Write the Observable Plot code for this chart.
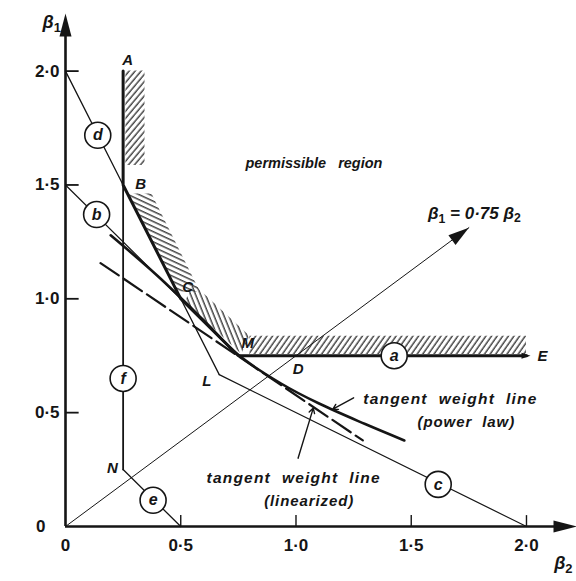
<!DOCTYPE html>
<html><head><meta charset="utf-8">
<script src="https://cdn.jsdelivr.net/npm/d3@7"></script>
<script src="https://cdn.jsdelivr.net/npm/@observablehq/plot@0.6"></script>
<style>
body{margin:0;background:#fff}
#chart svg{display:block}
</style>
</head><body>
<svg width="0" height="0" style="position:absolute">
<defs>
<pattern id="hatchAB" patternUnits="userSpaceOnUse" width="4.6" height="10" patternTransform="rotate(40)"><line x1="2" y1="0" x2="2" y2="10" stroke="#2a2a2a" stroke-width="1.3"/></pattern>
<pattern id="hatchBC" patternUnits="userSpaceOnUse" width="4.6" height="10" patternTransform="rotate(-65)"><line x1="2" y1="0" x2="2" y2="10" stroke="#2a2a2a" stroke-width="1.3"/></pattern>
<pattern id="hatchCM" patternUnits="userSpaceOnUse" width="4.6" height="10" patternTransform="rotate(-22)"><line x1="2" y1="0" x2="2" y2="10" stroke="#2a2a2a" stroke-width="1.3"/></pattern>
<pattern id="hatchME" patternUnits="userSpaceOnUse" width="4.6" height="10" patternTransform="rotate(35)"><line x1="2" y1="0" x2="2" y2="10" stroke="#2a2a2a" stroke-width="1.3"/></pattern>
</defs>
</svg>
<div id="chart"></div>
<script>
// ---- axes ----
const X_MAX = 2.217, Y_MAX = 2.253;
const xTicks = [0, 0.5, 1.0, 1.5, 2.0];
const xTickLabels = ["0", "0·5", "1·0", "1·5", "2·0"];
const yTicks = [0.5, 1.0, 1.5, 2.0];
const yTickLabels = ["0·5", "1·0", "1·5", "2·0"];
const yZeroLabel = "0";

// ---- constraint lines (β2, β1) ----
const lineD = [[0, 2.0], [0.25, 1.5], [0.5, 1.0], [0.667, 0.667]];
const lineB = [[0, 1.5], [0.5, 1.0], [0.75, 0.75]];
const lineF = [[0.25, 1.5], [0.25, 0.25]];
const lineE = [[0.25, 0.25], [0.5, 0]];
const lineC = [[0.667, 0.667], [2.0, 0]];
const boundary = [[0.25, 2.0], [0.25, 1.5], [0.5, 1.0], [0.75, 0.75], [2.0, 0.75]]; // A B C M E
const ray = [[0, 0], [1.75, 1.3125]];

// ---- tangent weight lines ----
const powerLaw = [[0.196, 1.279], [0.40, 1.10], [0.60, 0.905], [0.748, 0.755], [0.935, 0.628], [1.10, 0.54], [1.30, 0.45], [1.47, 0.378]];
const linearized = [[0.152, 1.157], [1.29, 0.378]];

// ---- hatched bands (inner edge x1,y1 / outer edge x2,y2) ----
const bandAB = [{x1: 0.262, y1: 2.0, x2: 0.345, y2: 2.0}, {x1: 0.262, y1: 1.585, x2: 0.345, y2: 1.585}];
const bandBC = [{x1: 0.275, y1: 1.46, x2: 0.375, y2: 1.46}, {x1: 0.49, y1: 1.03, x2: 0.585, y2: 1.03}];
const bandCM = [{x1: 0.52, y1: 0.985, x2: 0.555, y2: 1.065}, {x1: 0.765, y1: 0.755, x2: 0.80, y2: 0.835}];
const bandME = [{x1: 0.80, y1: 0.755, x2: 0.80, y2: 0.835}, {x1: 2.0, y1: 0.755, x2: 2.0, y2: 0.835}];

// ---- numbered constraint circles ----
const circleLabels = ["a", "b", "c", "d", "e", "f"];
const circleB2 = [1.426, 0.135, 1.617, 0.14, 0.38, 0.25];
const circleB1 = [0.75, 1.37, 0.185, 1.718, 0.115, 0.65];

// ---- point labels ----
const pointLabels = ["A", "B", "C", "M", "D", "L", "N", "E"];
const pointLabelB2 = [0.27, 0.326, 0.53, 0.791, 1.009, 0.613, 0.204, 2.07];
const pointLabelB1 = [2.047, 1.503, 1.05, 0.804, 0.69, 0.637, 0.255, 0.747];

const circles = circleLabels.map((t, i) => ({t, x: circleB2[i], y: circleB1[i]}));
const pts = pointLabels.map((t, i) => ({t, x: pointLabelB2[i], y: pointLabelB1[i]}));

const W = 576, H = 581, ML = 65, MR = 0, MT = 13, MB = 55;
const kx = (W - ML - MR) / X_MAX, ky = (H - MT - MB) / Y_MAX;

const upHead = {draw(c) { c.moveTo(0, 0); c.lineTo(6, 23); c.lineTo(-6, 23); c.closePath(); }};
const rightHead = {draw(c) { c.moveTo(0, 0); c.lineTo(-23, -6); c.lineTo(-23, 6); c.closePath(); }};
const smallRight = {draw(c) { c.moveTo(4, 0); c.lineTo(-5, -3); c.lineTo(-5, 3); c.closePath(); }};
function rayHead() {
  const dx = (ray[1][0] - ray[0][0]) * kx, dy = -(ray[1][1] - ray[0][1]) * ky;
  const n = Math.hypot(dx, dy), ux = dx / n, uy = dy / n;
  return {draw(c) {
    const L = 21, w = 6;
    c.moveTo(0, 0);
    c.lineTo(-L * ux - w * uy, -L * uy + w * ux);
    c.lineTo(-L * ux + w * uy, -L * uy - w * ux);
    c.closePath();
  }};
}

const font = "'Liberation Sans', Arial, 'DejaVu Sans', sans-serif";
const ink = "#151515";
const tx = d => d[0], ty = d => d[1];
const lab = {fontWeight: "bold", fontStyle: "italic", fill: ink};

const chart = Plot.plot({
  width: W, height: H,
  marginLeft: ML, marginRight: MR, marginTop: MT, marginBottom: MB,
  x: {domain: [0, X_MAX], axis: null},
  y: {domain: [0, Y_MAX], axis: null},
  style: {fontFamily: font, background: "white", overflow: "visible"},
  marks: [
    // hatched bands
    Plot.area(bandAB, {x1: "x1", y1: "y1", x2: "x2", y2: "y2", fill: "url(#hatchAB)"}),
    Plot.area(bandBC, {x1: "x1", y1: "y1", x2: "x2", y2: "y2", fill: "url(#hatchBC)"}),
    Plot.area(bandCM, {x1: "x1", y1: "y1", x2: "x2", y2: "y2", fill: "url(#hatchCM)"}),
    Plot.area(bandME, {x1: "x1", y1: "y1", x2: "x2", y2: "y2", fill: "url(#hatchME)"}),
    // thin constraint lines
    Plot.line(lineD, {x: tx, y: ty, stroke: ink, strokeWidth: 1.3}),
    Plot.line(lineB, {x: tx, y: ty, stroke: ink, strokeWidth: 1.2}),
    Plot.line(lineF, {x: tx, y: ty, stroke: ink, strokeWidth: 1.8}),
    Plot.line(lineE, {x: tx, y: ty, stroke: ink, strokeWidth: 1.3}),
    Plot.line(lineC, {x: tx, y: ty, stroke: ink, strokeWidth: 1.2}),
    Plot.line(ray, {x: tx, y: ty, stroke: ink, strokeWidth: 1.0}),
    Plot.dot([ray[1]], {x: tx, y: ty, symbol: rayHead(), fill: ink, stroke: "none", r: 5}),
    // tangent weight lines
    Plot.line(linearized, {x: tx, y: ty, stroke: ink, strokeWidth: 2.2, strokeDasharray: "22,6"}),
    Plot.line(powerLaw, {x: tx, y: ty, stroke: ink, strokeWidth: 2.6, curve: "catmull-rom"}),
    // permissible boundary
    Plot.line(boundary, {x: tx, y: ty, stroke: ink, strokeWidth: 3, strokeLinejoin: "miter"}),
    Plot.dot([boundary[boundary.length - 1]], {x: tx, y: ty, symbol: smallRight, fill: ink, stroke: "none", r: 3}),
    // leader arrows
    Plot.arrow([{x1: 1.25, y1: 0.565, x2: 1.16, y2: 0.515}], {x1: "x1", y1: "y1", x2: "x2", y2: "y2", stroke: ink, strokeWidth: 1.4, headLength: 6}),
    Plot.arrow([{x1: 1.009, y1: 0.30, x2: 1.075, y2: 0.52}], {x1: "x1", y1: "y1", x2: "x2", y2: "y2", stroke: ink, strokeWidth: 1.4, headLength: 6}),
    // axes
    Plot.ruleX([0], {y1: 0, y2: Y_MAX - 0.05, stroke: ink, strokeWidth: 2.6}),
    Plot.ruleY([0], {x1: 0, x2: X_MAX - 0.05, stroke: ink, strokeWidth: 2.6}),
    Plot.dot([[0, Y_MAX]], {x: tx, y: ty, symbol: upHead, fill: ink, stroke: "none", r: 5}),
    Plot.dot([[X_MAX, 0]], {x: tx, y: ty, symbol: rightHead, fill: ink, stroke: "none", r: 5}),
    Plot.link(yTicks, {x1: 0, x2: 0.057, y1: d => d, y2: d => d, stroke: ink, strokeWidth: 1.8}),
    Plot.link(xTicks.slice(1), {x1: d => d, x2: d => d, y1: 0, y2: 0.05, stroke: ink, strokeWidth: 1.4}),
    Plot.text(yTicks, {x: 0, y: d => d, text: (d, i) => yTickLabels[i], textAnchor: "end", dx: -6, fontSize: 17, fontWeight: "bold", fill: ink}),
    Plot.text([0], {x: 0, y: 0, text: () => yZeroLabel, textAnchor: "end", dx: -20, fontSize: 17, fontWeight: "bold", fill: ink}),
    Plot.text(xTicks, {x: d => d, y: 0, text: (d, i) => xTickLabels[i], dy: 19, fontSize: 17, fontWeight: "bold", fill: ink}),
    Plot.text([{x: -0.06, y: 2.214}], {x: "x", y: "y", text: () => "β₁", fontSize: 18, ...lab}),
    Plot.text([{x: 2.12, y: -0.16}], {x: "x", y: "y", text: () => "β₂", textAnchor: "start", fontSize: 18, ...lab}),
    // constraint circles
    Plot.dot(circles, {x: "x", y: "y", r: 13, fill: "white", stroke: ink, strokeWidth: 1.6}),
    Plot.text(circles, {x: "x", y: "y", text: "t", fontSize: 16, ...lab}),
    // point labels
    Plot.text(pts, {x: "x", y: "y", text: "t", fontSize: 15, ...lab}),
    // annotations
    Plot.text([{x: 1.078, y: 1.595}], {x: "x", y: "y", text: () => "permissible\u00a0\u00a0\u00a0region", fontSize: 14.5, ...lab}),
    Plot.text([{x: 1.774, y: 1.375}], {x: "x", y: "y", text: () => "β₁ = 0·75 β₂", fontSize: 17, ...lab}),
    Plot.text([{x: 1.67, y: 0.558}], {x: "x", y: "y", text: () => "tangent\u00a0\u00a0weight\u00a0\u00a0line", fontSize: 15.5, ...lab}),
    Plot.text([{x: 1.739, y: 0.457}], {x: "x", y: "y", text: () => "(power\u00a0 law)", fontSize: 15, ...lab}),
    Plot.text([{x: 0.99, y: 0.211}], {x: "x", y: "y", text: () => "tangent\u00a0\u00a0weight\u00a0\u00a0line", fontSize: 15.5, ...lab}),
    Plot.text([{x: 1.057, y: 0.11}], {x: "x", y: "y", text: () => "(linearized)", fontSize: 15, ...lab})
  ]
});

// real subscripts for β₁ / β₂, and the wide spacing of the annotations
const subMap = {"₁": "1", "₂": "2"};
d3.select(chart).selectAll("text").each(function () {
  const el = this;
  const t = el.textContent;
  if (t.includes("tangent")) el.setAttribute("letter-spacing", "1.2");
  else if (t.includes("(")) el.setAttribute("letter-spacing", "0.9");
  if (!/[₁₂]/.test(t)) return;
  while (el.firstChild) el.removeChild(el.firstChild);
  let shifted = false;
  for (const ch of t) {
    const ts = document.createElementNS("http://www.w3.org/2000/svg", "tspan");
    if (subMap[ch]) {
      ts.textContent = subMap[ch];
      ts.setAttribute("font-size", "0.72em");
      ts.setAttribute("font-style", "normal");
      ts.setAttribute("dy", "0.3em");
      shifted = true;
    } else {
      ts.textContent = ch;
      if (shifted) { ts.setAttribute("dy", "-0.22em"); shifted = false; }
    }
    el.appendChild(ts);
  }
});
document.getElementById("chart").appendChild(chart);
</script>
</body></html>
